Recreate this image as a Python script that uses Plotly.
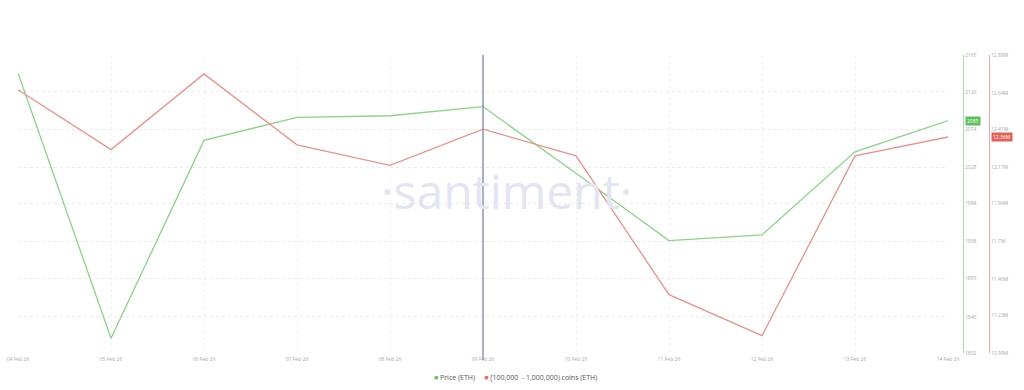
import plotly.graph_objects as go

dates = ["2026-02-04", "2026-02-05", "2026-02-06", "2026-02-07", "2026-02-08", "2026-02-09",
         "2026-02-10", "2026-02-11", "2026-02-12", "2026-02-13", "2026-02-14"]
date_labels = ["04 Feb 26", "05 Feb 26", "06 Feb 26", "07 Feb 26", "08 Feb 26", "09 Feb 26",
               "10 Feb 26", "11 Feb 26", "12 Feb 26", "13 Feb 26", "14 Feb 26"]
price_eth = [2143, 1820, 2061, 2089, 2091, 2102, 2021, 1939, 1946, 2047, 2085]
whale_holdings = [12.66e6, 12.28e6, 12.76e6, 12.31e6, 12.18e6, 12.41e6, 12.24e6, 11.36e6, 11.10e6, 12.24e6, 12.36e6]

price_ticks = [1802, 1846, 1893, 1938, 1984, 2028, 2074, 2120, 2165]
price_tick_labels = ["1802", "1846", "1893", "1938", "1984", "2028", "2074", "2120", "2165"]
holding_ticks = [10.99e6, 11.23e6, 11.46e6, 11.70e6, 11.94e6, 12.17e6, 12.41e6, 12.64e6, 12.88e6]
holding_tick_labels = ["10.99M", "11.23M", "11.46M", "11.7M", "11.94M", "12.17M", "12.41M", "12.64M", "12.88M"]

GREEN = "#8fd18c"
RED = "#e2958f"
tick_font = dict(family="Open Sans, sans-serif", size=5, color="#a9a9a9")

fig = go.Figure()
fig.add_trace(go.Scatter(x=dates, y=whale_holdings, mode="lines", yaxis="y2",
                         line=dict(color=RED, width=1.3), showlegend=False))
fig.add_trace(go.Scatter(x=dates, y=price_eth, mode="lines", yaxis="y",
                         line=dict(color=GREEN, width=1.3), showlegend=False))

legend_text = ("<span style='color:#6cc46a'>■</span> Price (ETH)     "
               "<span style='color:#e0706a'>■</span> [100,000  - 1,000,000) coins (ETH)")

fig.update_layout(
    width=1024, height=390,
    margin=dict(l=0, r=0, t=0, b=0),
    paper_bgcolor="white", plot_bgcolor="white",
    showlegend=False,
    xaxis=dict(domain=[18 / 1024, 948 / 1024], range=[dates[0], dates[-1]],
               tickvals=dates, ticktext=date_labels, tickfont=tick_font, automargin=False,
               showgrid=True, gridcolor="#f0f0f0", griddash="dot", gridwidth=1,
               showline=False, zeroline=False, ticks="", ticklabelstandoff=2),
    yaxis=dict(domain=[(390 - 353) / 390, (390 - 55) / 390], range=[1802, 2165],
               anchor="free", position=963 / 1024, side="right", automargin=False,
               tickvals=price_ticks, ticktext=price_tick_labels, tickfont=tick_font,
               showgrid=True, gridcolor="#ebebeb", griddash="dot", gridwidth=1,
               showline=True, linecolor="#a9dca5", linewidth=1, zeroline=False, ticks=""),
    yaxis2=dict(domain=[(390 - 353) / 390, (390 - 55) / 390], range=[10.99e6, 12.88e6],
                anchor="free", overlaying="y", position=989 / 1024, side="right", automargin=False,
                tickvals=holding_ticks, ticktext=holding_tick_labels, tickfont=tick_font,
                showgrid=False, showline=True, linecolor="#eca5a0", linewidth=1,
                zeroline=False, ticks=""),
    shapes=[dict(type="line", xref="x", yref="paper", x0=dates[5], x1=dates[5],
                 y0=(390 - 360) / 390, y1=(390 - 55) / 390,
                 line=dict(color="#8f93b5", width=1.5))],
    annotations=[
        dict(text="·santiment·", x=506 / 1024, y=(390 - 190) / 390, xref="paper", yref="paper",
             showarrow=False, font=dict(family="Open Sans, sans-serif", size=48, color="#e3e5f0")),
        dict(text=legend_text, x=515 / 1024, y=(390 - 384) / 390, xref="paper", yref="paper",
             showarrow=False, font=dict(family="Open Sans, sans-serif", size=7, color="#555")),
        dict(text=str(price_eth[-1]), x=965 / 1024, y=price_eth[-1], xref="paper", yref="y",
             xanchor="left", showarrow=False, bgcolor="#5cbf5a",
             font=dict(family="Open Sans, sans-serif", size=5, color="white"), borderpad=1),
        dict(text="12.36M", x=991 / 1024, y=whale_holdings[-1], xref="paper", yref="y2",
             xanchor="left", showarrow=False, bgcolor="#e0615a",
             font=dict(family="Open Sans, sans-serif", size=5, color="white"), borderpad=1),
    ],
)

fig.write_html("out.html")
